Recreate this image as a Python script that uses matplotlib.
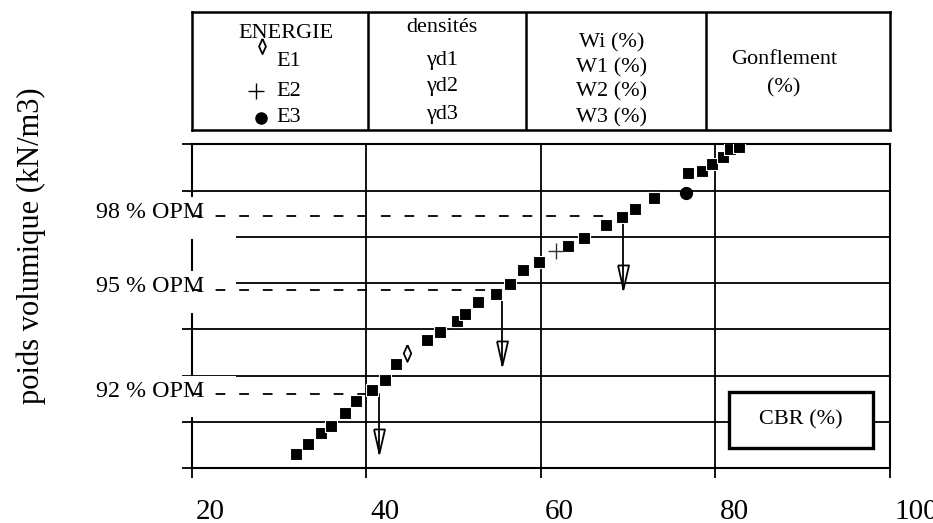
import numpy as np
import matplotlib
matplotlib.use('Agg')
import matplotlib.pyplot as plt
from matplotlib.patches import Rectangle
from matplotlib.transforms import ScaledTranslation, blended_transform_factory

plt.rcParams['font.family'] = ['Liberation Serif', 'DejaVu Serif']
plt.rcParams['lines.scale_dashes'] = False

# CBR (%) en abscisse, poids volumique (kN/m3) en ordonnee
cbr = [32.0, 33.3, 34.8, 36.0, 37.6, 38.8, 40.6, 42.1, 43.4, 47.0,
       48.5, 50.4, 51.3, 52.8, 54.9, 56.5, 58.0, 59.8, 63.1, 64.9,
       67.5, 69.3, 70.8, 73.0, 76.9, 78.5, 79.6, 80.9, 81.7, 82.7]
gamma = [17.15, 17.26, 17.38, 17.46, 17.60, 17.73, 17.85, 17.95, 18.13, 18.39,
         18.47, 18.59, 18.67, 18.80, 18.88, 18.99, 19.14, 19.23, 19.40, 19.49,
         19.63, 19.72, 19.80, 19.92, 20.19, 20.21, 20.29, 20.36, 20.45, 20.47]

# points de compactage a energie E1, E2, E3
e1_cbr, e1_gamma = [44.7], [18.25]
e2_cbr, e2_gamma = [61.7], [19.35]
e3_cbr, e3_gamma = [76.6], [19.97]

opm_labels = ['98 % OPM', '95 % OPM', '92 % OPM']
opm_gamma = [19.73, 18.93, 17.80]
opm_cbr = [69.4, 55.6, 41.5]
opm_arrow_end = [18.94, 18.12, 17.17]

x_ticks = [20, 40, 60, 80, 100]
y_grid = np.arange(17.0, 20.51, 0.5)

fig = plt.figure(figsize=(9.33, 5.23), dpi=100)
ax = fig.add_axes([0.2055, 0.1046, 0.7484, 0.6195])
ax.set_xlim(20, 100)
ax.set_ylim(17.0, 20.5)
ax.set_xticks(x_ticks)
ax.set_yticks(y_grid)
ax.set_yticklabels([])
ax.grid(True, color='black', lw=1.3)
ax.set_axisbelow(True)
for s in ax.spines.values():
    s.set_linewidth(1.5)
ax.tick_params(axis='both', direction='out', length=7, width=1.3, colors='black')
ax.tick_params(axis='x', labelsize=21, pad=15)
for lab in ax.get_xticklabels():
    lab.set_horizontalalignment('left')
    lab.set_transform(lab.get_transform() + ScaledTranslation(0.04, 0, fig.dpi_scale_trans))

# niveaux OPM : caches blancs, pointilles, fleches
blend = blended_transform_factory(ax.transAxes, ax.transData)
arrow_head = [(-5.5, 24), (5.5, 24), (0, 0), (-5.5, 24)]
for lab, g, c, g_end in zip(opm_labels, opm_gamma, opm_cbr, opm_arrow_end):
    ax.add_patch(Rectangle((-0.16, g - 0.25), 0.16 + 0.0634, 0.45, transform=blend,
                           fc='white', ec='none', clip_on=False, zorder=3))
    ax.plot([20, c], [g, g], color='black', lw=1.3, ls=(0, (7, 10)), zorder=4, clip_on=False)
    ax.text(21.4, g + 0.03, lab, ha='right', va='center', fontsize=17.3, zorder=5)
    ax.plot([c], [g_end], marker=arrow_head, ms=34.6, mfc='white', mec='black', mew=1.3,
            ls='none', zorder=4)
    ax.plot([c, c], [g, g_end], color='black', lw=1.3, zorder=4.5)

ax.plot(cbr, gamma, 's', ms=8.8, color='black', mec='white', mew=0.8, zorder=6)
ax.plot(e1_cbr, e1_gamma, marker=[(0, 1), (0.45, 0), (0, -1), (-0.45, 0), (0, 1)], ms=12,
        mfc='white', mec='black', mew=1.3, ls='none', zorder=6)
ax.plot(e2_cbr, e2_gamma, '+', ms=12, color='#333333', mew=1.0, zorder=6)
ax.plot(e3_cbr, e3_gamma, 'o', ms=8.5, color='black', zorder=6)

ax.add_patch(Rectangle((81.55, 17.22), 16.5, 0.6, fc='white', ec='black', lw=2.4, zorder=5))
ax.text(89.8, 17.52, 'CBR (%)', ha='center', va='center', fontsize=16, zorder=6)

fig.text(31 / 933, 1 - 246 / 523, 'poids volumique (kN/m3)', rotation=90,
         ha='center', va='center', fontsize=22)

# tableau de legende au-dessus du graphe
tab = fig.add_axes([191.7 / 933, 1 - 130 / 523, 698.3 / 933, 118 / 523])
tab.set_xlim(0, 698)
tab.set_ylim(118, 0)
tab.set_xticks([])
tab.set_yticks([])
for s in tab.spines.values():
    s.set_linewidth(1.8)
for xc in [176, 334, 514]:
    tab.axvline(xc, color='black', lw=1.8)

fs = 16
tab.text(94, 21, 'ENERGIE', ha='center', va='center', fontsize=fs)
tab.plot([70], [34], marker=[(0, 1), (0.45, 0), (0, -1), (-0.45, 0), (0, 1)], ms=11,
         mfc='white', mec='black', mew=1.3)
tab.text(97, 50, 'E1', ha='center', va='center', fontsize=fs)
tab.plot([64], [79], '+', ms=12, color='black', mew=1.0)
tab.text(97, 79, 'E2', ha='center', va='center', fontsize=fs)
tab.plot([69], [106], 'o', ms=8, color='black')
tab.text(97, 106, 'E3', ha='center', va='center', fontsize=fs)

tab.text(250, 16, 'densités', ha='center', va='center', fontsize=fs)
for yy, t in zip([48, 75, 102], ['γd1', 'γd2', 'γd3']):
    tab.text(250, yy, t, ha='center', va='center', fontsize=fs)

for yy, t in zip([31, 56, 80, 106], ['Wi (%)', 'W1 (%)', 'W2 (%)', 'W3 (%)']):
    tab.text(420, yy, t, ha='center', va='center', fontsize=fs)

tab.text(592, 48, 'Gonflement', ha='center', va='center', fontsize=fs)
tab.text(592, 76, '(%)', ha='center', va='center', fontsize=fs)

fig.savefig('out.png', dpi=100)
